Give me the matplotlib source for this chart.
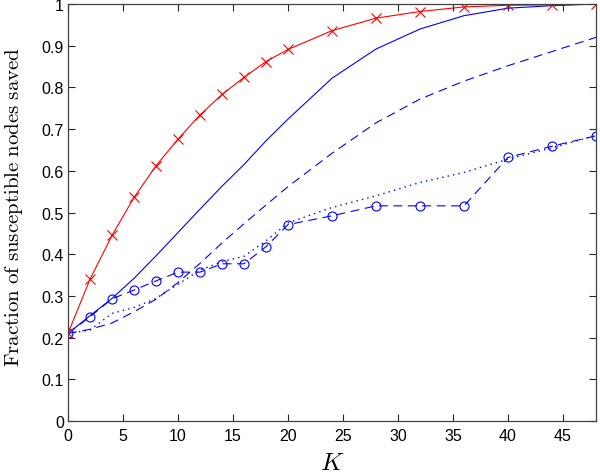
import matplotlib
matplotlib.use("Agg")
import matplotlib.pyplot as plt

K = [0, 2, 4, 6, 8, 10, 12, 14, 16, 18, 20, 24, 28, 32, 36, 40, 44, 48]

red_x = [0.21, 0.34, 0.445, 0.536, 0.612, 0.676, 0.734, 0.783, 0.824, 0.862,
         0.891, 0.936, 0.966, 0.982, 0.993, 0.997, 0.998, 1.0]
blue_solid = [0.21, 0.2525, 0.294, 0.342, 0.396, 0.452, 0.508, 0.563, 0.615,
              0.672, 0.724, 0.822, 0.892, 0.94, 0.972, 0.99, 0.996, 1.0]
blue_dashed = [0.21, 0.22, 0.235, 0.262, 0.292, 0.332, 0.378, 0.427, 0.473,
               0.518, 0.562, 0.642, 0.715, 0.772, 0.815, 0.852, 0.886, 0.92]
blue_dotted = [0.21, 0.218, 0.258, 0.272, 0.294, 0.328, 0.362, 0.382, 0.395,
               0.432, 0.475, 0.512, 0.54, 0.572, 0.596, 0.628, 0.655, 0.685]
blue_circ = [0.21, 0.25, 0.293, 0.314, 0.336, 0.357, 0.357, 0.377, 0.377,
             0.418, 0.471, 0.492, 0.516, 0.516, 0.516, 0.632, 0.659, 0.684]

xticks = [0, 5, 10, 15, 20, 25, 30, 35, 40, 45]
yticks = [0, 0.1, 0.2, 0.3, 0.4, 0.5, 0.6, 0.7, 0.8, 0.9, 1]
yticklabels = ["0", "0.1", "0.2", "0.3", "0.4", "0.5", "0.6", "0.7", "0.8", "0.9", "1"]

plt.rcParams['mathtext.fontset'] = 'cm'
plt.rcParams['font.family'] = ['Liberation Sans', 'DejaVu Sans']

fig = plt.figure(figsize=(6.0, 4.77), dpi=100)
ax = fig.add_axes([68/600, 55/477, 528/600, 417/477])

lw = 0.8
ax.plot(K, blue_dotted, color='#0000ff', lw=1.0, linestyle=(0, (1.0, 3.0)))
ax.plot(K, blue_dashed, color='#0000ff', lw=lw, linestyle=(0, (8, 5)))
ax.plot(K, blue_circ, color='#0000ff', lw=lw, linestyle=(0, (8, 5)),
        marker='o', markersize=6.5, markerfacecolor='none', markeredgewidth=0.8)
ax.plot(K, blue_solid, color='#0000ff', lw=lw, linestyle='-')
ax.plot(K, red_x, color='#ff0000', lw=lw, linestyle='-',
        marker='x', markersize=6.5, markeredgewidth=0.8)

ax.set_xlim(0, 48)
ax.set_ylim(0, 1)
ax.set_xticks(xticks)
ax.set_xticklabels([str(t) for t in xticks])
ax.set_yticks(yticks)
ax.set_yticklabels(yticklabels)
ax.tick_params(direction='in', length=5, width=0.8, top=True, right=True,
               labelsize=11.5, colors='#262626')
ax.tick_params(axis='x', pad=5)
ax.tick_params(axis='y', pad=3)
ax.tick_params(labelcolor='black')
for s in ax.spines.values():
    s.set_linewidth(0.9)
    s.set_color('#404040')

ax.set_xlabel(r'$K$', fontsize=18, labelpad=5)
ax.set_ylabel(r'$\mathrm{Fraction\ of\ susceptible\ nodes\ saved}$', fontsize=15)
ax.yaxis.set_label_coords(-0.082, 0.515)

fig.savefig('out.png', dpi=100)
